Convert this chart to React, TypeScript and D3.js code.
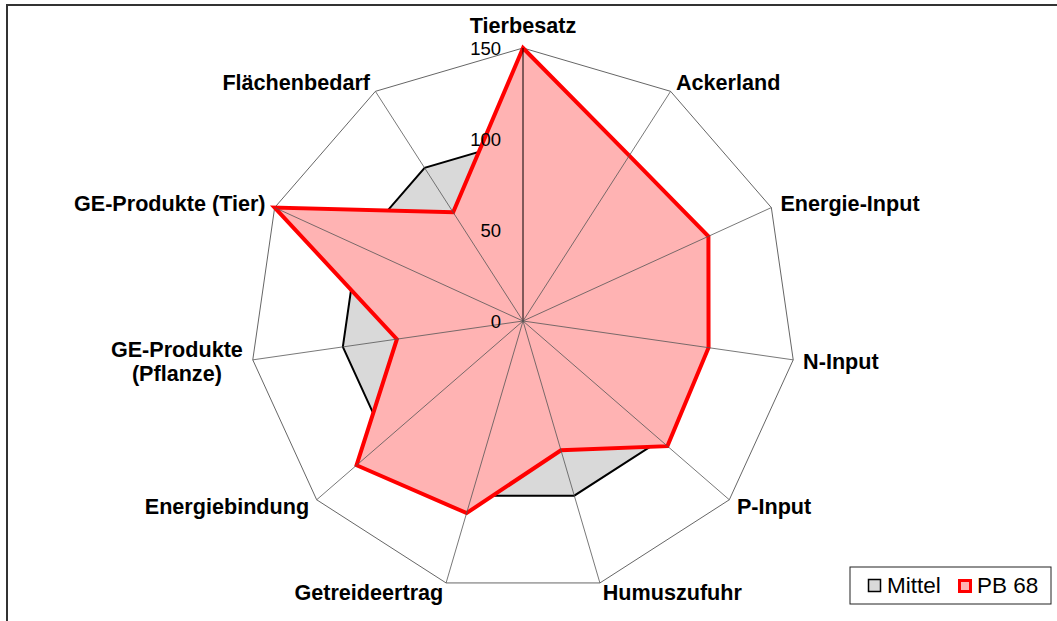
import React, { useEffect, useRef } from "react";
import * as d3 from "d3";

const categories = [
  "Tierbesatz",
  "Ackerland",
  "Energie-Input",
  "N-Input",
  "P-Input",
  "Humuszufuhr",
  "Getreideertrag",
  "Energiebindung",
  "GE-Produkte\n(Pflanze)",
  "GE-Produkte (Tier)",
  "Flächenbedarf",
];
const mittel = [100, 100, 100, 100, 100, 100, 100, 100, 100, 100, 100];
const pb68 = [150, 108, 112, 103, 105, 74, 110, 121, 70, 150, 71];
const ticks = [0, 50, 100, 150];
const seriesNames = ["Mittel", "PB 68"];

const W = 1057;
const H = 621;
const FONT = "'Liberation Sans', Arial, sans-serif";

export default function App() {
  const ref = useRef<SVGSVGElement>(null);

  useEffect(() => {
    const svg = d3.select(ref.current);
    svg.selectAll("*").remove();

    const cx = 523;
    const cy = 321;
    const r = d3.scaleLinear().domain([0, 150]).range([0, 273]);
    const n = categories.length;
    const ang = d3
      .scaleLinear()
      .domain([0, n])
      .range([0, 2 * Math.PI]);
    const pt = (i: number, v: number): [number, number] => {
      const a = ang(i);
      return [cx + Math.sin(a) * r(v), cy - Math.cos(a) * r(v)];
    };

    // frame
    svg
      .append("rect")
      .attr("x", 7)
      .attr("y", 5)
      .attr("width", W + 20)
      .attr("height", H + 20)
      .attr("fill", "#fff")
      .attr("stroke", "#333")
      .attr("stroke-width", 2);

    const line = d3.line<number>()
      .x((d, i) => pt(i, d)[0])
      .y((d, i) => pt(i, d)[1])
      .curve(d3.curveLinearClosed);

    // outer grid polygon
    svg
      .append("path")
      .attr("d", line(categories.map(() => 150)) as string)
      .attr("fill", "#fff")
      .attr("stroke", "#666")
      .attr("stroke-width", 1);

    // Mittel series
    svg
      .append("path")
      .attr("d", line(mittel) as string)
      .attr("fill", "#d9d9d9")
      .attr("stroke", "#000")
      .attr("stroke-width", 2)
      .attr("stroke-linejoin", "miter");

    // PB 68 series
    svg
      .append("path")
      .attr("d", line(pb68) as string)
      .attr("fill", "#ffb3b3")
      .attr("stroke", "#ff0000")
      .attr("stroke-width", 4)
      .attr("stroke-linejoin", "miter");

    // spokes
    categories.forEach((_, i) => {
      const [x, y] = pt(i, 150);
      svg
        .append("line")
        .attr("x1", cx)
        .attr("y1", cy)
        .attr("x2", x)
        .attr("y2", y)
        .attr("stroke", i === 0 ? "#000" : "#555")
        .attr("stroke-width", i === 0 ? 1 : 0.8);
    });

    // tick labels
    ticks.forEach((t) => {
      svg
        .append("text")
        .attr("x", cx - 22)
        .attr("y", cy - r(t))
        .attr("text-anchor", "end")
        .attr("dominant-baseline", "central")
        .attr("font-family", FONT)
        .attr("font-size", 18.5)
        .attr("fill", "#000")
        .text(String(t));
    });

    // category labels
    categories.forEach((c, i) => {
      const a = ang(i);
      const s = Math.sin(a);
      const co = -Math.cos(a);
      const [vx, vy] = pt(i, 150);
      let x = vx + s * 10;
      let y = vy + co * 10;
      const lines = c.split("\n");
      const anchor = s > 0.1 ? "start" : s < -0.1 ? "end" : "middle";
      if (anchor === "middle" && co < 0) y = vy - 23;
      const g = svg.append("g");
      const lh = 23.5;
      const texts = lines.map((l, k) =>
        g
          .append("text")
          .attr("y", y + (k - (lines.length - 1) / 2) * lh)
          .attr("dominant-baseline", "central")
          .attr("font-family", FONT)
          .attr("font-size", 21.6)
          .attr("font-weight", "bold")
          .attr("fill", "#000")
          .text(l)
      );
      if (lines.length > 1) {
        const widths = texts.map((t) => (t.node() as SVGTextElement).getComputedTextLength());
        const maxW = Math.max(...widths);
        const centerX = anchor === "end" ? x - maxW / 2 : anchor === "start" ? x + maxW / 2 : x;
        texts.forEach((t) => t.attr("x", centerX).attr("text-anchor", "middle"));
      } else {
        texts.forEach((t) => t.attr("x", x).attr("text-anchor", anchor));
      }
    });

    // legend
    const lg = svg.append("g");
    lg.append("rect")
      .attr("x", 850)
      .attr("y", 567)
      .attr("width", 201)
      .attr("height", 37)
      .attr("fill", "#fff")
      .attr("stroke", "#222")
      .attr("stroke-width", 1);
    const legendX = [868, 958];
    seriesNames.forEach((name, i) => {
      const isRed = i === 1;
      lg.append("rect")
        .attr("x", legendX[i] + (isRed ? 1.5 : 0.5))
        .attr("y", 579 + (isRed ? 1.5 : 0.5))
        .attr("width", isRed ? 11 : 12)
        .attr("height", isRed ? 11 : 12)
        .attr("fill", isRed ? "#ffb3b3" : "#d9d9d9")
        .attr("stroke", isRed ? "#ff0000" : "#000")
        .attr("stroke-width", isRed ? 3 : 1.5);
      lg.append("text")
        .attr("x", legendX[i] + 19)
        .attr("y", 593)
        .attr("font-family", FONT)
        .attr("font-size", 22.5)
        .attr("fill", "#000")
        .text(name);
    });
  }, []);

  return (
    <svg
      ref={ref}
      width={W}
      height={H}
      style={{ position: "absolute", left: 0, top: 0, background: "#fff" }}
    />
  );
}
